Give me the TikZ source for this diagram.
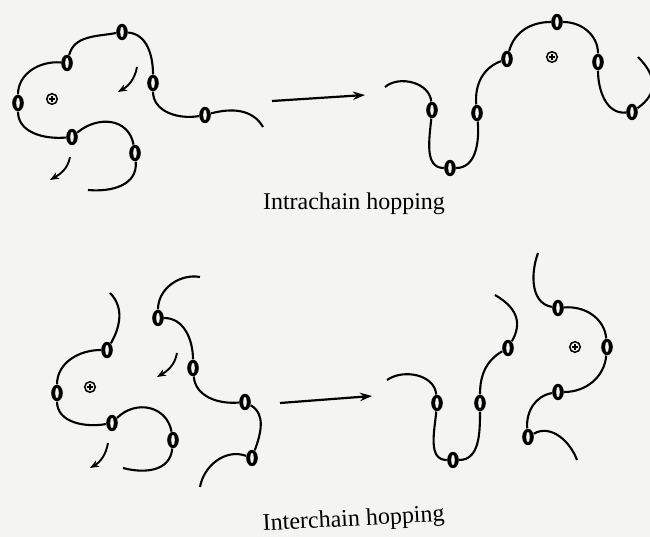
\documentclass[tikz,border=0pt]{standalone}
\usepackage{fontspec}
\setmainfont{Liberation Serif}
\usetikzlibrary{shapes.geometric, arrows.meta}
\definecolor{paper}{HTML}{F4F4F2}

\begin{document}
\begin{tikzpicture}[
    x=0.5pt, y=0.5pt,
    ring/.style={ellipse, fill=black, minimum width=5.8pt, minimum height=8.2pt,
                 inner sep=0pt, path picture={\fill[paper]
                 (path picture bounding box.center) ellipse [x radius=0.9pt, y radius=2.6pt];}},
    charge/.style={circle, draw, line width=0.75pt, minimum size=5.3pt, inner sep=0pt,
                   path picture={\draw[line width=0.6pt]
                   ([xshift=-1.7pt]path picture bounding box.center) -- ++(3.4pt,0)
                   ([yshift=-1.7pt]path picture bounding box.center) -- ++(0,3.4pt);}},
    chain/.style={line width=1.05pt},
    arr/.style={-{Stealth[length=6pt, width=4.2pt]}, line width=1.1pt},
    turn/.style={-{Stealth[length=4.5pt, width=3.5pt]}, line width=0.95pt},
    captxt/.style={font=\fontsize{12}{14}\selectfont, inner sep=0pt, anchor=base}
]
    \useasboundingbox (0,0) rectangle (650,537);
    \clip (0,0) rectangle (650,537);
    \fill[paper] (0,0) rectangle (650,537);

    % --- intrachain, before
    \node[ring] (a1) at (122,505) {};
    \node[ring] (a2) at (67,474)  {};
    \node[ring] (a3) at (153,454) {};
    \node[ring] (a4) at (18,434)  {};
    \node[ring] (a5) at (72,400)  {};
    \node[ring] (a6) at (135,384) {};
    \node[ring] (a7) at (205,422) {};
    \coordinate (aE) at (263,410);
    \coordinate (aS) at (88,347);
    \node[charge] (q1) at (52,438) {};

    \draw[chain] (a2) to[out=75, in=190] (a1);
    \draw[chain] (a1) to[out=-5, in=90] (a3);
    \draw[chain] (a3) to[out=-90, in=190] (a7);
    \draw[chain] (a7) to[out=15, in=120] (aE);
    \draw[chain] (a2) to[out=175, in=90] (a4);
    \draw[chain] (a4) to[out=-90, in=185] (a5);
    \draw[chain] (a5) to[out=40, in=100, looseness=1.2] (a6);
    \draw[chain] (a6) to[out=-85, in=-5, looseness=1.1] (aS);

    \coordinate (t1s) at (137,470); \coordinate (t1e) at (118,445);
    \coordinate (t2s) at (70,380);  \coordinate (t2e) at (50,357);
    \draw[turn] (t1s) to[out=-100, in=30] (t1e);
    \draw[turn] (t2s) to[out=-100, in=30] (t2e);

    % --- intrachain, after
    \coordinate (bS) at (385,450);
    \node[ring] (b1) at (432,427) {};
    \node[ring] (b2) at (450,369) {};
    \node[ring] (b3) at (477,424) {};
    \node[ring] (b4) at (507,478) {};
    \node[ring] (b5) at (557,515) {};
    \node[ring] (b6) at (598,475) {};
    \node[ring] (b7) at (632,425) {};
    \coordinate (bE) at (638,480);
    \node[charge] (q2) at (552,480) {};

    \draw[chain] (bS) to[out=40, in=95] (b1);
    \draw[chain] (b1) to[out=-95, in=180] (b2);
    \draw[chain] (b2) to[out=0, in=-85] (b3);
    \draw[chain] (b3) to[out=95, in=200] (b4);
    \draw[chain] (b4) to[out=75, in=180] (b5);
    \draw[chain] (b5) to[out=0, in=90] (b6);
    \draw[chain] (b6) to[out=-90, in=185] (b7);
    \draw[chain] (b7) to[out=35, in=-45, looseness=1.3] (bE);

    \coordinate (p1) at (272,436); \coordinate (p2) at (365,442);
    \draw[arr] (p1) -- (p2);
    \node[captxt] (l1) at (354,327) {Intrachain hopping};

    % --- interchain, before
    \coordinate (c0) at (110,244);
    \node[ring] (c1) at (107,187) {};
    \node[ring] (c2) at (57,144)  {};
    \node[ring] (c3) at (112,114) {};
    \node[ring] (c4) at (173,97)  {};
    \coordinate (c5) at (123,69);
    \node[charge] (q3) at (90,150) {};

    \draw[chain] (c0) to[out=-45, in=60] (c1);
    \draw[chain] (c1) to[out=180, in=90] (c2);
    \draw[chain] (c2) to[out=-90, in=190] (c3);
    \draw[chain] (c3) to[out=45, in=100, looseness=1.2] (c4);
    \draw[chain] (c4) to[out=-95, in=-15, looseness=1.1] (c5);

    \coordinate (d0) at (200,260);
    \node[ring] (d1) at (158,219) {};
    \node[ring] (d2) at (193,169) {};
    \node[ring] (d3) at (245,135) {};
    \node[ring] (d4) at (252,79)  {};
    \coordinate (d5) at (200,50);

    \draw[chain] (d0) to[out=170, in=90] (d1);
    \draw[chain] (d1) to[out=0, in=90] (d2);
    \draw[chain] (d2) to[out=-85, in=185] (d3);
    \draw[chain] (d3) to[out=-30, in=70] (d4);
    \draw[chain] (d4) to[out=160, in=80] (d5);

    \coordinate (t3s) at (177,184); \coordinate (t3e) at (157,160);
    \coordinate (t4s) at (108,94);  \coordinate (t4e) at (90,69);
    \draw[turn] (t3s) to[out=-100, in=30] (t3e);
    \draw[turn] (t4s) to[out=-100, in=30] (t4e);

    % --- interchain, after
    \coordinate (e0) at (387,157);
    \node[ring] (e1) at (437,134) {};
    \node[ring] (e2) at (453,77)  {};
    \node[ring] (e3) at (480,134) {};
    \node[ring] (e4) at (508,189) {};
    \coordinate (e5) at (495,242);

    \draw[chain] (e0) to[out=35, in=95] (e1);
    \draw[chain] (e1) to[out=-95, in=180] (e2);
    \draw[chain] (e2) to[out=0, in=-90] (e3);
    \draw[chain] (e3) to[out=90, in=210] (e4);
    \draw[chain] (e4) to[out=60, in=-30, looseness=1.2] (e5);

    \coordinate (f0) at (538,284);
    \node[ring] (f1) at (558,229) {};
    \node[ring] (f2) at (607,190) {};
    \node[ring] (f3) at (558,145) {};
    \node[ring] (f4) at (528,100) {};
    \coordinate (f5) at (577,77);
    \node[charge] (q4) at (575,190) {};

    \draw[chain] (f0) to[out=-110, in=170] (f1);
    \draw[chain] (f1) to[out=5, in=95] (f2);
    \draw[chain] (f2) to[out=-95, in=0] (f3);
    \draw[chain] (f3) to[out=190, in=95] (f4);
    \draw[chain] (f4) to[out=30, in=110] (f5);

    \coordinate (p3) at (280,134); \coordinate (p4) at (372,141);
    \draw[arr] (p3) -- (p4);
    \node[captxt, rotate=3] (l2) at (354,11) {Interchain hopping};
\end{tikzpicture}
\end{document}
